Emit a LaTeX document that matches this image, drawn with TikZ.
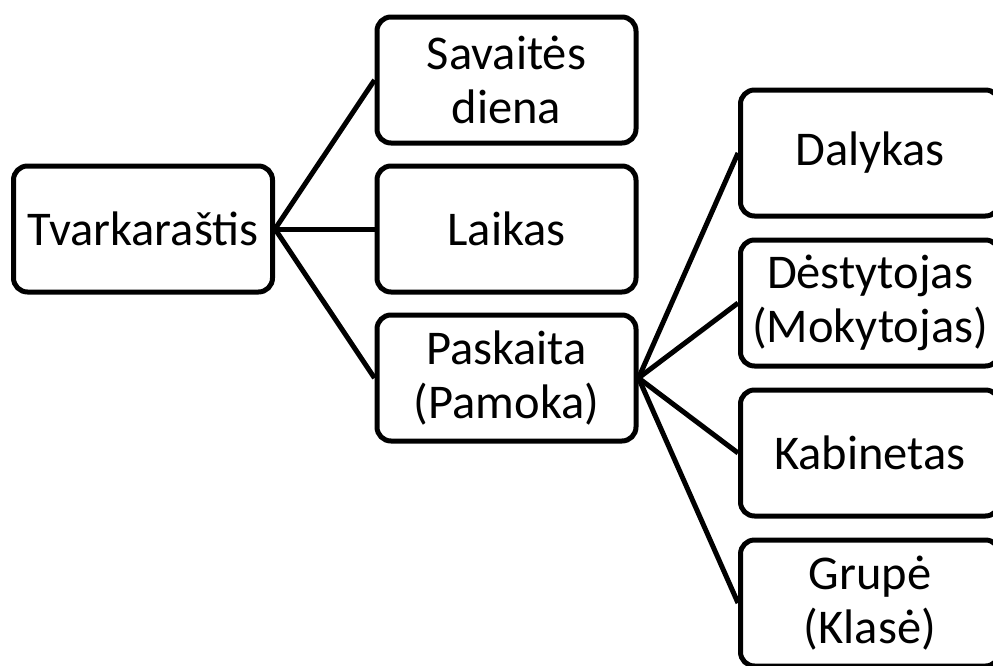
\documentclass[tikz,border=0pt]{standalone}
\usepackage{fontspec}
\setmainfont{Carlito}
\begin{document}
\begin{tikzpicture}[x=1pt,y=-1pt,
  box/.style={draw=black, line width=5pt, rounded corners=14pt,
    minimum width=259pt, minimum height=126pt, inner sep=0pt,
    align=center, font=\fontsize{48.5}{54}\selectfont},
  link/.style={draw=black, line width=5pt, line join=round}]
\clip (0,0) rectangle (993,665);

% root
\node[box] (root) at (143,229) {Tvarkaraštis};

% first level
\node[box] (day)    at (506.5,80)  {Savaitės\\diena};
\node[box] (time)   at (506.5,229) {Laikas};
\node[box] (lesson) at (506.5,378) {Paskaita\\(Pamoka)};

% second level
\node[box] (subject) at (870,153) {Dalykas};
\node[box] (teacher) at (870,303) {Dėstytojas\\(Mokytojas)};
\node[box] (room)    at (870,453) {Kabinetas};
\node[box] (group)   at (870,603) {Grupė\\(Klasė)};

% connectors
\draw[link] (root.east) -- (day.west);
\draw[link] (root.east) -- (time.west);
\draw[link] (root.east) -- (lesson.west);
\draw[link] (lesson.east) -- (subject.west);
\draw[link] (lesson.east) -- (teacher.west);
\draw[link] (lesson.east) -- (room.west);
\draw[link] (lesson.east) -- (group.west);
\end{tikzpicture}
\end{document}
